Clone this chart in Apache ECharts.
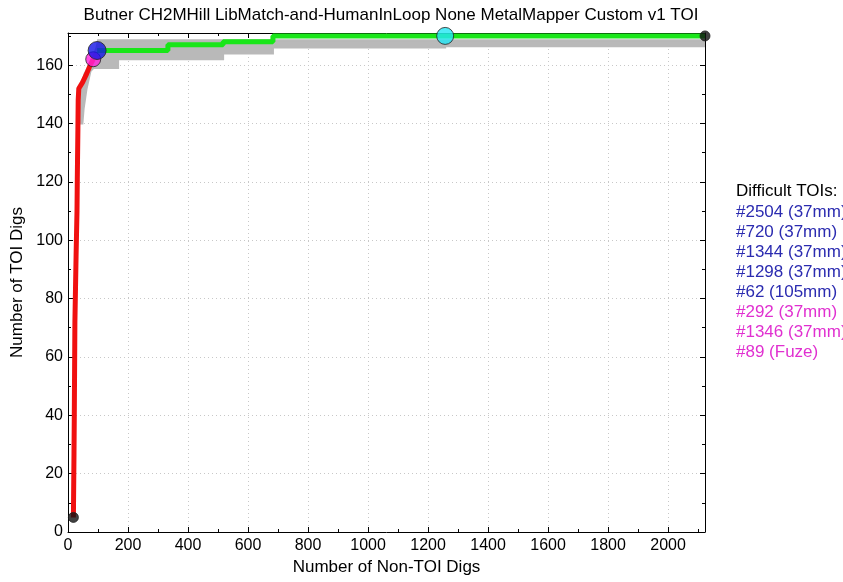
<!DOCTYPE html>
<html><head><meta charset="utf-8">
<script src="https://cdn.jsdelivr.net/npm/echarts@6/dist/echarts.min.js"></script>
<style>html,body{margin:0;padding:0;background:#fff}#c{width:843px;height:582px}</style>
</head><body><div id="c"></div>
<script>
const titleText = 'Butner CH2MHill LibMatch-and-HumanInLoop None MetalMapper Custom v1 TOI';
const xName = 'Number of Non-TOI Digs';
const yName = 'Number of TOI Digs';
// red curve
const redX = [18, 20, 21, 23, 27, 30, 31, 33, 34, 36, 48, 62, 74, 84];
const redY = [5, 27, 40, 72, 95, 110, 121, 138, 148, 152, 154, 157, 160, 162];
// green step curve
const greenX = [97, 333, 517, 683, 2123];
const greenY = [165, 167, 168, 170, 170];
// gray band edges
const grayUpperX = [36, 38, 55, 80, 95, 100, 2123];
const grayUpperY = [140, 150, 157, 162, 166, 168.5, 168.5];
const grayLowerX = [48, 52, 62, 75, 85, 167, 167, 517, 517, 683, 683, 1257, 1257, 2123];
const grayLowerY = [140, 145, 152, 158, 159, 159, 162, 162, 164, 164, 166, 166, 166.5, 166.5];
// markers
const markX = [18, 84, 97, 1257, 2123];
const markY = [5, 162, 165, 170, 170];
const markColor = ['#111111', '#ff22dd', '#1414e6', '#22e6f5', '#111111'];
const markSize = [10, 15, 18, 17, 10];
// legend
const legendTitle = 'Difficult TOIs:';
const legendItems = ['#2504 (37mm)', '#720 (37mm)', '#1344 (37mm)', '#1298 (37mm)', '#62 (105mm)', '#292 (37mm)', '#1346 (37mm)', '#89 (Fuze)'];
const legendColors = ['#2b2bb0','#2b2bb0','#2b2bb0','#2b2bb0','#2b2bb0','#e030d0','#e030d0','#e030d0'];

const xMax = 2123, yMax = 171;
const FONT = '"Liberation Sans", Arial, sans-serif';

const chart = echarts.init(document.getElementById('c'));
const redData = redX.map((x, i) => [x, redY[i]]);
const greenData = greenX.map((x, i) => [x, greenY[i]]);
const upper = grayUpperX.map((x, i) => [x, grayUpperY[i]]);
const lower = grayLowerX.map((x, i) => [x, grayLowerY[i]]);
const markData = markX.map((x, i) => ({value: [x, markY[i]], symbolSize: markSize[i], itemStyle: {color: markColor[i]}}));

const graphics = [{type: 'text', left: 736, top: 183, style: {text: legendTitle, fill: '#000', font: '17px ' + FONT}}];
legendItems.forEach((t, i) => graphics.push({type: 'text', left: 736, top: 204 + i * 20, style: {text: t, fill: legendColors[i], font: '17px ' + FONT}}));

const axisCommon = {
  axisLine: {show: true, onZero: false, lineStyle: {color: '#000', width: 1}},
  axisTick: {show: true, inside: true, length: 5, lineStyle: {color: '#000'}},
  minorTick: {show: true, splitNumber: 2, length: 3, lineStyle: {color: '#000'}},
};

chart.setOption({
  backgroundColor: '#fff',
  animation: false,
  title: {text: titleText, left: 386, textAlign: 'center', top: 2, textStyle: {fontFamily: FONT, fontWeight: 'normal', fontSize: 17, color: '#000'}},
  grid: {left: 68, right: 138, top: 33, bottom: 50},
  graphic: graphics,
  xAxis: [
    Object.assign({type: 'value', min: 0, max: xMax, interval: 200, name: xName, nameLocation: 'middle', nameGap: 25,
      nameTextStyle: {fontFamily: FONT, fontSize: 17, color: '#000'},
      axisLabel: {fontFamily: FONT, fontSize: 16, color: '#000', margin: 6, showMaxLabel: false, formatter: v => String(v)},
      splitLine: {show: true, lineStyle: {color: '#c8c8c8', type: [1, 3], width: 1}}}, axisCommon),
    Object.assign({type: 'value', min: 0, max: xMax, interval: 200, position: 'top', axisLabel: {show: false}, splitLine: {show: false}}, axisCommon)
  ],
  yAxis: [
    Object.assign({type: 'value', min: 0, max: yMax, interval: 20, name: yName, nameLocation: 'middle', nameGap: 37,
      nameTextStyle: {fontFamily: FONT, fontSize: 17, color: '#000'},
      axisLabel: {fontFamily: FONT, fontSize: 16, color: '#000', margin: 5, showMaxLabel: false, formatter: v => String(v)},
      splitLine: {show: true, lineStyle: {color: '#c8c8c8', type: [1, 3], width: 1}}}, axisCommon),
    Object.assign({type: 'value', min: 0, max: yMax, interval: 20, position: 'right', axisLabel: {show: false}, splitLine: {show: false}}, axisCommon)
  ],
  series: [
    {type: 'custom', data: [[0, 0]], z: 1, clip: true,
      renderItem: function (params, api) {
        const pts = upper.map(p => api.coord(p)).concat(lower.slice().reverse().map(p => api.coord(p)));
        return {type: 'polygon', shape: {points: pts}, style: {fill: '#b9b9b9', stroke: '#b9b9b9', lineWidth: 2}};
      }},
    {type: 'line', data: redData, symbol: 'none', z: 3, lineStyle: {color: '#f01010', width: 5}},
    {type: 'line', data: greenData, step: 'end', symbol: 'none', z: 3, lineStyle: {color: '#19e619', width: 5}},
    {type: 'scatter', data: markData, z: 5, itemStyle: {borderColor: '#222', borderWidth: 1}}
  ]
});
</script></body></html>
